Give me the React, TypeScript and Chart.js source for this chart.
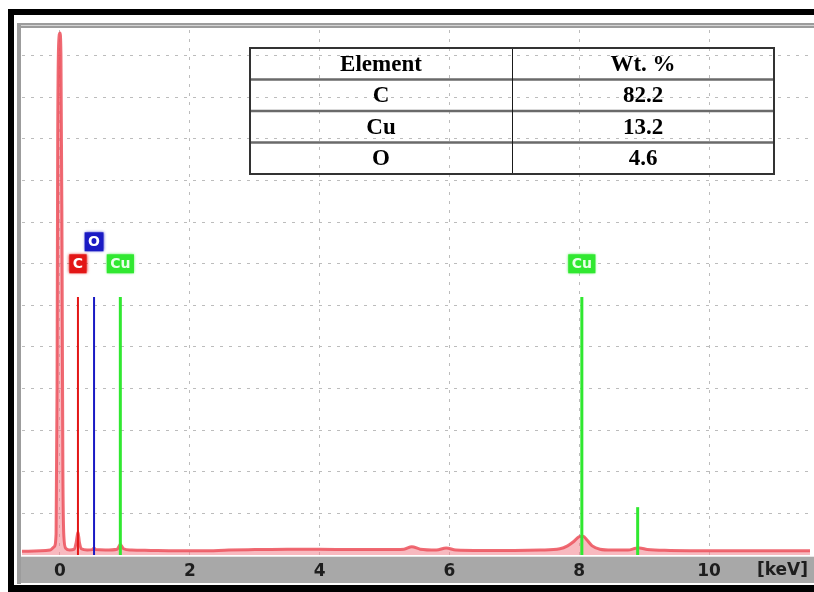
import { useEffect, useRef } from 'react';
import { Chart, registerables } from 'chart.js';

Chart.register(...registerables);

// EDS spectrum: energy (keV) and intensity (grid units)
const spectrumEnergy = [
  -0.585, -0.3, -0.15, -0.09, -0.06, -0.045, -0.035, -0.02, 0, 0.015, 0.03, 0.045, 0.06, 0.09,
  0.15, 0.22, 0.25, 0.277, 0.3, 0.33, 0.42, 0.5, 0.525, 0.55, 0.7, 0.88, 0.93, 0.98, 1.1, 1.4,
  1.8, 2.2, 2.6, 3.0, 3.5, 4.0, 4.5, 5.0, 5.3, 5.42, 5.55, 5.8, 5.95, 6.1, 6.5, 7.0, 7.4, 7.7,
  7.82, 7.92, 8.0, 8.06, 8.12, 8.2, 8.32, 8.5, 8.75, 8.87, 8.93, 9.05, 9.4, 10.0, 10.8, 11.555,
];
const spectrumCounts = [
  0.09, 0.1, 0.12, 0.2, 0.5, 4.0, 10.0, 12.3, 12.55, 12.0, 8.0, 2.0, 0.45, 0.16,
  0.12, 0.14, 0.3, 0.55, 0.3, 0.15, 0.12, 0.13, 0.17, 0.13, 0.12, 0.14, 0.25, 0.15, 0.12, 0.11,
  0.1, 0.1, 0.12, 0.13, 0.14, 0.14, 0.13, 0.13, 0.14, 0.2, 0.14, 0.12, 0.17, 0.12, 0.11, 0.11, 0.12, 0.15,
  0.22, 0.33, 0.44, 0.45, 0.36, 0.22, 0.14, 0.12, 0.12, 0.16, 0.17, 0.13, 0.11, 0.1, 0.1, 0.1,
];

// Axis ticks
const xTickValues = [0, 2, 4, 6, 8, 10];
const yGridValues = [1, 2, 3, 4, 5, 6, 7, 8, 9, 10, 11, 12];
const X_MIN = -0.585;
const X_MAX = 11.555;
const Y_MAX = 12.62;

// Element identification lines
const markerNames = ['C', 'O', 'Cu', 'Cu', 'Cu'];
const markerEnergy = [0.277, 0.525, 0.93, 8.04, 8.9];
const markerHeight = [6.2, 6.2, 6.2, 6.2, 1.15];
const markerLabelled = [true, true, true, true, false];

// Quantification table
const tableHeader = ['Element', 'Wt. %'];
const tableElements = ['C', 'Cu', 'O'];
const tableWeights = [82.2, 13.2, 4.6];

const elementColors: Record<string, string> = {
  C: '#e31616',
  O: '#1a1ac4',
  Cu: '#30e830',
};

const LABEL_LEVEL = 7.0;

const framePlugin = {
  id: 'edsFrame',
  beforeDraw(chart: any) {
    const { ctx, width: W, height: H } = chart;
    ctx.save();
    ctx.fillStyle = '#ffffff';
    ctx.fillRect(0, 0, W, H);
    // energy axis band
    ctx.fillStyle = '#a8a8a8';
    ctx.fillRect(17, 557, W - 17, 26);
    ctx.fillStyle = '#e6e6e6';
    ctx.fillRect(17, 556, W - 17, 1);
    // top rule
    ctx.fillStyle = '#9c9c9c';
    ctx.fillRect(17, 23, W - 17, 5);
    ctx.fillStyle = '#d4d4d4';
    ctx.fillRect(17, 25, W - 17, 1);
    // left rule
    ctx.fillStyle = '#9c9c9c';
    ctx.fillRect(17, 23, 4, 561);
    // black window frame
    ctx.fillStyle = '#000000';
    ctx.fillRect(8, 9, W - 8, 6);
    ctx.fillRect(8, 9, 6, H - 9);
    ctx.fillRect(8, 585, W - 8, H - 585);
    ctx.restore();
  },
};

const overlayPlugin = {
  id: 'edsOverlay',
  afterDatasetsDraw(chart: any) {
    const { ctx } = chart;
    const xs = chart.scales.x;
    const ys = chart.scales.y;
    ctx.save();

    // element labels above the marker lines
    ctx.font = 'bold 14px "DejaVu Sans"';
    ctx.textAlign = 'center';
    ctx.textBaseline = 'middle';
    const placed: { l: number; r: number; row: number }[] = [];
    markerNames.forEach((name, i) => {
      if (!markerLabelled[i]) return;
      const cx = xs.getPixelForValue(markerEnergy[i]);
      const tw = ctx.measureText(name).width;
      const w = Math.max(15, tw + 7);
      const l = cx - w / 2;
      const r = cx + w / 2;
      let row = 0;
      while (placed.some((p) => p.row === row && l < p.r + 4 && r > p.l - 4)) row++;
      placed.push({ l, r, row });
      const cy = ys.getPixelForValue(LABEL_LEVEL) - row * 22;
      const color = elementColors[name];
      ctx.shadowColor = color;
      ctx.shadowBlur = 3;
      ctx.fillStyle = color;
      ctx.fillRect(l, cy - 9.5, w, 19);
      ctx.shadowBlur = 0;
      ctx.fillStyle = name === 'Cu' ? '#e8ffe8' : '#ffffff';
      ctx.fillText(name, cx, cy + 1);
    });

    // quantification table
    const tx0 = 250;
    const tx1 = 774;
    const tcol = 512;
    const ty0 = 48;
    const rowH = 31.5;
    const nRows = tableElements.length + 1;
    const ty1 = ty0 + rowH * nRows;
    ctx.strokeStyle = '#6a6a6a';
    ctx.lineWidth = 2.5;
    for (let r = 1; r < nRows; r++) {
      const y = ty0 + r * rowH;
      ctx.beginPath();
      ctx.moveTo(tx0, y);
      ctx.lineTo(tx1, y);
      ctx.stroke();
    }
    ctx.strokeStyle = '#1a1a1a';
    ctx.lineWidth = 1;
    ctx.beginPath();
    ctx.moveTo(tcol + 0.5, ty0);
    ctx.lineTo(tcol + 0.5, ty1);
    ctx.stroke();
    ctx.strokeStyle = '#333333';
    ctx.lineWidth = 2;
    ctx.strokeRect(tx0, ty0, tx1 - tx0, ty1 - ty0);

    ctx.fillStyle = '#000000';
    ctx.font = 'bold 23px "Liberation Serif"';
    ctx.textAlign = 'center';
    ctx.textBaseline = 'middle';
    const c1 = (tx0 + tcol) / 2;
    const c2 = (tcol + tx1) / 2;
    ctx.fillText(tableHeader[0], c1, ty0 + rowH / 2 + 1);
    ctx.fillText(tableHeader[1], c2, ty0 + rowH / 2 + 1);
    tableElements.forEach((el, i) => {
      const y = ty0 + (i + 1.5) * rowH + 1;
      ctx.fillText(el, c1, y);
      ctx.fillText(tableWeights[i].toFixed(1), c2, y);
    });
    ctx.restore();
  },
  afterDraw(chart: any) {
    const { ctx, chartArea } = chart;
    ctx.save();
    ctx.font = 'bold 17px "DejaVu Sans"';
    ctx.fillStyle = '#1e1e1e';
    ctx.textAlign = 'right';
    ctx.textBaseline = 'middle';
    ctx.fillText('[keV]', chartArea.right - 2, 571);
    ctx.restore();
  },
};

export default function App() {
  const canvasRef = useRef<HTMLCanvasElement | null>(null);

  useEffect(() => {
    const canvas = canvasRef.current;
    if (!canvas) return;

    const markerSets = markerNames.map((name, i) => ({
      label: name,
      data: [
        { x: markerEnergy[i], y: 0 },
        { x: markerEnergy[i], y: markerHeight[i] },
      ],
      borderColor: elementColors[name],
      borderWidth: name === 'Cu' ? 3 : 2,
      pointRadius: 0,
      fill: false,
    }));

    const chart = new Chart(canvas, {
      type: 'line',
      data: {
        datasets: [
          ...markerSets,
          {
            label: 'spectrum',
            data: spectrumEnergy.map((e, i) => ({ x: e, y: spectrumCounts[i] })),
            borderColor: 'rgba(236, 80, 90, 0.85)',
            borderWidth: 3,
            backgroundColor: 'rgba(242, 128, 138, 0.55)',
            fill: 'origin',
            pointRadius: 0,
            cubicInterpolationMode: 'monotone',
          },
        ],
      } as any,
      options: {
        responsive: false,
        devicePixelRatio: 1,
        animation: false,
        layout: { padding: { left: 22, right: 4, top: 30, bottom: 9 } },
        plugins: {
          legend: { display: false },
          tooltip: { enabled: false },
        },
        scales: {
          x: {
            type: 'linear',
            min: X_MIN,
            max: X_MAX,
            afterFit: (s: any) => {
              s.height = 28;
            },
            afterBuildTicks: (s: any) => {
              s.ticks = xTickValues.map((v) => ({ value: v }));
            },
            ticks: {
              padding: 6,
              color: '#1e1e1e',
              font: { family: 'DejaVu Sans', size: 17, weight: 'bold' },
              callback: (v: any) => String(v),
            },
            grid: { color: '#bcbcbc', lineWidth: 1, drawTicks: false },
            border: { display: false, dash: [3, 6] },
          },
          y: {
            type: 'linear',
            min: 0,
            max: Y_MAX,
            afterFit: (s: any) => {
              s.width = 0;
            },
            afterBuildTicks: (s: any) => {
              s.ticks = yGridValues.map((v) => ({ value: v }));
            },
            ticks: { display: false },
            grid: { color: '#bcbcbc', lineWidth: 1, drawTicks: false },
            border: { display: false, dash: [3, 6] },
          },
        },
      } as any,
      plugins: [framePlugin, overlayPlugin],
    });

    return () => chart.destroy();
  }, []);

  return (
    <div style={{ position: 'absolute', left: 0, top: 0, width: 814, height: 592 }}>
      <canvas ref={canvasRef} width={814} height={592} />
    </div>
  );
}
